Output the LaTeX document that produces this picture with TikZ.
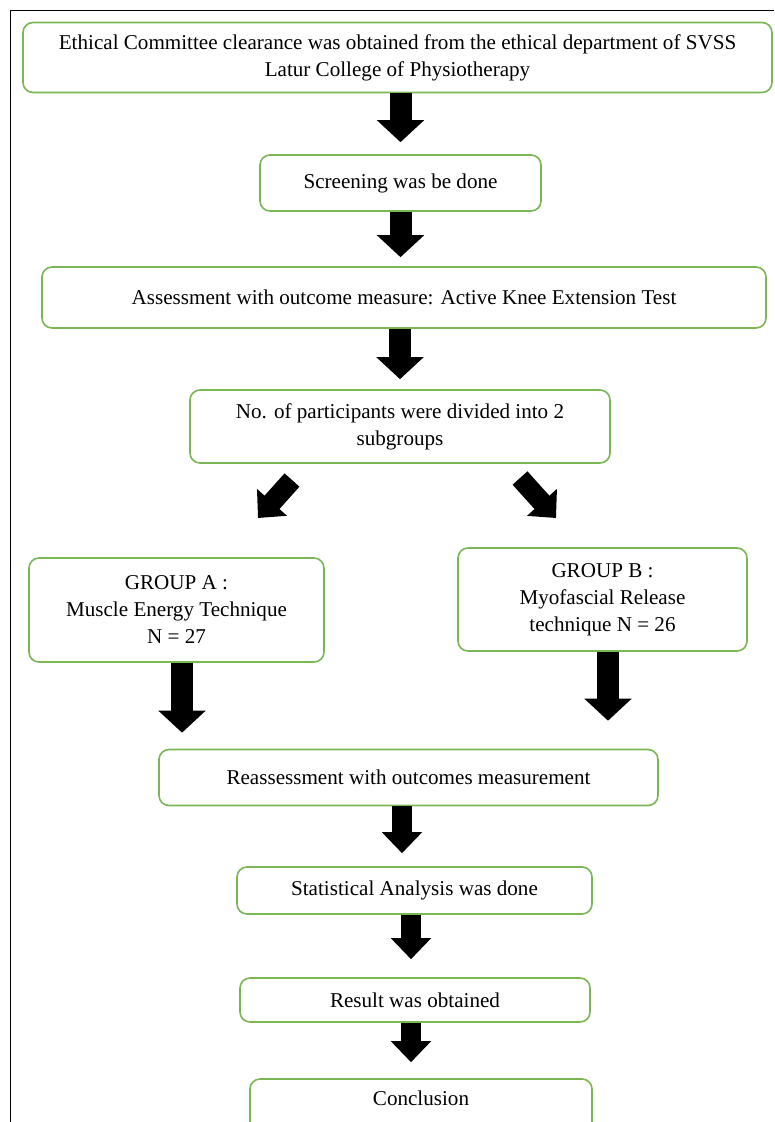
\documentclass[tikz,border=0pt]{standalone}
\usepackage{fontspec}
\setmainfont{Liberation Serif}
\usetikzlibrary{arrows.meta}

\definecolor{box edge}{RGB}{122,182,84}
\tikzset{stage/.style={draw=box edge, line width=1.6pt, rounded corners=10pt, fill=white,
        align=center, inner sep=0pt, font=\fontsize{21.1}{27}\selectfont},
    flow/.style={line width=22pt, -{Triangle[width=46pt,length=22pt]}},
    thin flow/.style={line width=20pt, -{Triangle[width=39pt,length=21pt]}}}

\begin{document}
\begin{tikzpicture}[x=1pt, y=-1pt]

    \clip (0,0) rectangle (774,1122);
    \fill[white] (0,0) rectangle (774,1122);
    \draw[line width=1pt] (10,1122) -- (10,10) -- (774,10);

    % boxes
    \node[stage, minimum width=749, minimum height=70] (ethics) at (397.5,57.5)
        {Ethical Committee clearance was obtained from the ethical department of SVSS\\Latur College of Physiotherapy};
    \node[stage, minimum width=281, minimum height=56] (screen) at (400.5,183) {Screening was be done};
    \node[stage, minimum width=724, minimum height=61] (assess) at (404,297.5)
        {Assessment with outcome measure: Active Knee Extension Test};
    \node[stage, minimum width=420, minimum height=73] (divide) at (400,426.5)
        {No. of participants were divided into 2\\subgroups};
    \node[stage, minimum width=295, minimum height=104] (groupA) at (176.5,610)
        {GROUP A :\\Muscle Energy Technique\\N = 27};
    \node[stage, minimum width=289, minimum height=103] (groupB) at (602.5,599.5)
        {GROUP B :\\Myofascial Release\\technique N = 26};
    \node[stage, minimum width=499, minimum height=56] (reassess) at (408.5,777.5)
        {Reassessment with outcomes measurement};
    \node[stage, minimum width=355, minimum height=47] (stats) at (414.5,890.5) {Statistical Analysis was done};
    \node[stage, minimum width=350, minimum height=44] (result) at (415,1000) {Result was obtained};
    \node[stage, minimum width=342, minimum height=60, text depth=21pt] (conclude) at (421,1109) {Conclusion};

    % arrow ends
    \coordinate (splitA) at (292,480);
    \coordinate (tipA) at (258,518);
    \coordinate (splitB) at (520,478);
    \coordinate (tipB) at (556,518);

    % arrows
    \draw[flow, shorten >=12pt] (ethics.south -| screen.north) -- (screen.north);
    \draw[flow, shorten >=9pt] (screen.south) -- (assess.north -| screen.south);
    \draw[flow, shorten >=10pt] (assess.south -| divide.north) -- (divide.north);
    \draw[thin flow] (splitA) -- (tipA);
    \draw[thin flow] (splitB) -- (tipB);
    \draw[flow, shorten >=16pt] ([xshift=5.5pt]groupA.south) -- ([xshift=5.5pt]groupA.south |- reassess.north);
    \draw[flow, shorten >=28pt] ([xshift=5.5pt]groupB.south) -- ([xshift=5.5pt]groupB.south |- reassess.north);
    \draw[thin flow, shorten >=13pt] ([xshift=-6.5pt]reassess.south) -- ([xshift=-6.5pt]reassess.south |- stats.north);
    \draw[thin flow, shorten >=18pt] ([xshift=-3.5pt]stats.south) -- ([xshift=-3.5pt]stats.south |- result.north);
    \draw[thin flow, shorten >=16pt] ([xshift=-4pt]result.south) -- ([xshift=-4pt]result.south |- conclude.north);

\end{tikzpicture}
\end{document}
